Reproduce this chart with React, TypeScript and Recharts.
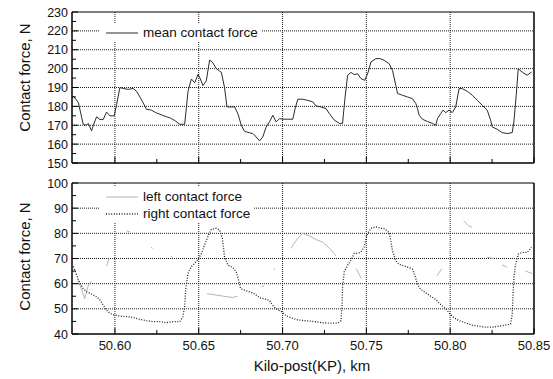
import { LineChart, Line, XAxis, YAxis, ReferenceLine, Legend } from 'recharts';

// kilo-post axis
const kmDomain = [50.5744, 50.85];
const majorKm = [50.6, 50.65, 50.7, 50.75, 50.8, 50.85];
const kmTicks = [50.6, 50.625, 50.65, 50.675, 50.7, 50.725, 50.75, 50.775, 50.8, 50.825, 50.85];

// mean contact force (top panel)
const meanTicks = [150, 155, 160, 165, 170, 175, 180, 185, 190, 195, 200, 205, 210, 215, 220, 225, 230];
const meanGrid = [160, 170, 180, 190, 200, 210, 220];
const meanKm = [
  50.5752, 50.5782, 50.5802, 50.5811, 50.5831, 50.5841, 50.5861, 50.5871, 50.5891, 50.5911, 50.593, 50.595,
  50.597, 50.5996, 50.601, 50.603, 50.6049, 50.6079, 50.6109, 50.6129, 50.6149, 50.6168, 50.6188, 50.6218,
  50.6248, 50.6278, 50.6307, 50.6327, 50.6357, 50.6387, 50.6416, 50.6426, 50.6436, 50.6456, 50.6476, 50.6496,
  50.651, 50.6525, 50.6545, 50.6565, 50.6581, 50.6605, 50.6635, 50.6654, 50.6668,
  50.6674, 50.6714, 50.6734, 50.6754, 50.6773, 50.6803, 50.6823, 50.6843, 50.6863, 50.6882, 50.6902, 50.6922,
  50.6942, 50.6962, 50.6982, 50.7001, 50.7031, 50.7061, 50.7075, 50.7091, 50.712, 50.715, 50.718, 50.72,
  50.723, 50.726, 50.7279, 50.7309, 50.7339, 50.7358, 50.7372, 50.7388, 50.7408, 50.7428, 50.7448, 50.7468,
  50.7491, 50.7511, 50.7527, 50.7557, 50.7583,
  50.7606, 50.7636, 50.7656, 50.7676, 50.7686, 50.7715, 50.7745, 50.7775, 50.7795, 50.7805, 50.7815, 50.7834,
  50.7864, 50.7894, 50.7914, 50.7924, 50.7944, 50.7957, 50.7973, 50.7993, 50.8013, 50.8033, 50.8053, 50.8072,
  50.8102, 50.8132, 50.8162, 50.8191, 50.8221, 50.8241, 50.8251, 50.828, 50.831, 50.834, 50.837, 50.838,
  50.8394, 50.8406, 50.8429, 50.8459, 50.8485,
];
const meanForce = [
  185.5, 182, 174, 170.5, 170, 171, 167, 170, 174.5, 173, 173, 177,
  175, 175, 181, 190, 189.5, 189, 189.5, 188, 185, 182, 178.5, 178,
  176.5, 175.5, 174.5, 174, 172.5, 170.5, 170.5, 179, 188, 194.5, 192.5, 197,
  194.5, 191, 193.5, 204.5, 203.5, 200, 198, 190, 180,
  179.7, 179.7, 176, 170, 166.8, 166, 165.6, 163.8, 161.7, 163.8, 169, 171.8,
  175.3, 171.8, 173.5, 173.2, 173.2, 173.2, 178.8, 183.8, 183.8, 183.2, 182.4, 180.2,
  179.7, 178.8, 176.2, 172.7, 171, 171, 184, 196.5, 198, 196.8, 197.3, 194.7,
  193.8, 198.2, 203.5, 205.3, 205.3,
  204.4, 202.6, 199, 191, 186.8, 185.9, 185, 184.1, 181.5, 178.8, 175.3, 173.2,
  172, 171, 170, 173.5, 176.2, 178, 176.7, 178, 176.7, 179.7, 189.4, 189.4,
  188, 185.9, 183.2, 180.6, 178, 172.7, 169.1, 167.9, 166.1, 165.6, 166.1, 171.8,
  185.9, 200, 198.2, 196.5, 198.2,
];

// left / right contact force (bottom panel)
const sideTicks = [40, 45, 50, 55, 60, 65, 70, 75, 80, 85, 90, 95, 100];
const sideGrid = [50, 60, 70, 80, 90];
const rightKm = [
  50.5752, 50.5772, 50.5792, 50.5811, 50.5831, 50.5851, 50.5871, 50.5891, 50.5911, 50.593, 50.595, 50.597,
  50.6, 50.603, 50.6069, 50.6109, 50.6149, 50.6188, 50.6228, 50.6268, 50.6307, 50.6347, 50.6387, 50.6406,
  50.6416, 50.6422, 50.6436, 50.6456, 50.6476, 50.6496, 50.6516, 50.6535, 50.6555, 50.6575, 50.6605, 50.6625,
  50.6641, 50.6654, 50.6674,
  50.6704, 50.6724, 50.6738, 50.675, 50.6773, 50.6803, 50.6833, 50.6863, 50.6892, 50.6922, 50.6942, 50.6962,
  50.6992, 50.7021, 50.7051, 50.7091, 50.713, 50.717, 50.721, 50.7249, 50.7289, 50.7328, 50.7348, 50.7355,
  50.7358, 50.7368, 50.7388, 50.7408, 50.7428, 50.7448, 50.7468, 50.7487, 50.7503, 50.7527, 50.7557, 50.7587,
  50.7606, 50.7636, 50.7646, 50.7656, 50.7676, 50.7696, 50.7725, 50.7755, 50.7775, 50.7791, 50.7805, 50.7825,
  50.7854, 50.7884, 50.7914, 50.7944, 50.7973, 50.7993, 50.8023, 50.8053, 50.8093, 50.8132, 50.8172, 50.8212,
  50.8251, 50.8291, 50.8331, 50.836, 50.837, 50.8374, 50.838, 50.839, 50.8406, 50.8429, 50.8459, 50.8485,
];
const rightForce = [
  66.8, 63.4, 60, 58, 56.8, 56.2, 55.5, 54.8, 53.5, 51.5, 49.5, 48.2,
  47.5, 47.1, 46.9, 46.6, 45.8, 45.3, 44.9, 44.9, 44.5, 44.9, 44.9, 46.9,
  50.9, 57.5, 64.1, 66.8, 68.1, 69.7, 72, 75.4, 78.7, 81.6, 82, 81.3,
  78, 70.7, 67.4,
  66.4, 64.7, 61.4, 58, 57.4, 56.7, 56, 54.4, 54, 53.3, 51.3, 50,
  48.9, 47.3, 46.4, 45.6, 45.3, 45.1, 44.7, 44.4, 44.3, 44.3, 45.3, 50.7,
  58.7, 64.7, 67.3, 69.3, 72, 72, 72.6, 74.6, 79.3, 82, 82.6, 82,
  81.9, 80.3, 77, 73, 69, 67.7, 67, 66.4, 65.7, 63, 59.7, 57.7,
  56.4, 55, 53.7, 51.7, 50, 48.4, 46.4, 45.3, 44.4, 43.5, 43.1, 42.7,
  42.7, 43.1, 43.5, 44, 47.7, 54.4, 62.3, 67.7, 71.7, 72.4, 72.4, 74.4,
];
// left signal drops out often, gaps are null
const leftKm = [
  50.5775, 50.58, 50.582, 50.584, 50.586, 50.59, 50.595, 50.5965, 50.6, 50.607, 50.609, 50.615,
  50.6215, 50.6225, 50.63, 50.6335, 50.6345, 50.645, 50.655, 50.66, 50.665, 50.67, 50.673, 50.68,
  50.6875, 50.689, 50.692, 50.6945, 50.6955, 50.7, 50.705, 50.709, 50.712, 50.716, 50.72, 50.724,
  50.728, 50.732, 50.74, 50.744, 50.747, 50.77, 50.792, 50.795, 50.8, 50.808, 50.811, 50.813,
  50.818, 50.822, 50.826, 50.829, 50.831, 50.834, 50.84, 50.845, 50.849,
];
const leftForce = [
  62, 58, 54, 59, 61, null, 67, 70, null, 81, 80.5, null,
  74.5, 74, null, 71, 70.5, null, 56, 55.5, 55, 54.5, 55, null,
  58.8, 59, null, 65.4, 66, null, 74, 78, 80, 79, 77.5, 76.5,
  74, 71, null, 66, 62, null, 63, 66, null, 85, 83, 82.5,
  null, 70.5, 70, null, 67.5, 66.5, null, 65, 64,
];

const meanData = meanKm.map((km, i) => ({ km, f: meanForce[i] }));
const rightData = rightKm.map((km, i) => ({ km, f: rightForce[i] }));
const leftData = leftKm.map((km, i) => ({ km, f: leftForce[i] }));

const FONT = '"Liberation Sans", Arial, sans-serif';
const gridStroke = '#1e1e1e';

function KmTick({ x, y, payload, showLabel }: any) {
  const major = majorKm.includes(payload.value);
  return (
    <g>
      <line x1={x} x2={x} y1={y} y2={y - (major ? 6 : 4)} stroke="#000" />
      {showLabel && major && (
        <text x={x} y={y + 16} textAnchor="middle" fontSize={13} fontFamily={FONT} fill="#111">
          {payload.value.toFixed(2)}
        </text>
      )}
    </g>
  );
}

function ForceTick({ x, y, payload }: any) {
  const major = payload.value % 10 === 0;
  return (
    <g>
      <line x1={x} x2={x + (major ? 6 : 4)} y1={y} y2={y} stroke="#000" />
      {major && (
        <text x={x - 4} y={y} dy={4.5} textAnchor="end" fontSize={12.5} fontFamily={FONT} fill="#111">
          {payload.value}
        </text>
      )}
    </g>
  );
}

function LegendBox({ payload }: any) {
  return (
    <div style={{ background: '#fff', padding: '1px 4px 1px 6px', fontFamily: FONT, fontSize: 13.5, color: '#111' }}>
      {(payload || []).map((entry: any) => (
        <div key={entry.value} style={{ display: 'flex', alignItems: 'center', height: 17 }}>
          <svg width={32} height={6}>
            <line
              x1={0}
              x2={32}
              y1={3}
              y2={3}
              stroke={entry.color}
              strokeWidth={entry.payload?.strokeWidth ?? 1}
              strokeDasharray={entry.payload?.strokeDasharray}
            />
          </svg>
          <span style={{ marginLeft: 5, lineHeight: '17px' }}>{entry.value}</span>
        </div>
      ))}
    </div>
  );
}

function Panel({
  top,
  height,
  marginTop,
  xHeight,
  yDomain,
  yTicks,
  grid,
  labelDy,
  bottom,
  legendTop,
  children,
}: any) {
  return (
    <div style={{ position: 'absolute', left: 0, top }}>
      <LineChart width={553} height={height} margin={{ top: marginTop, right: 19, bottom: 0, left: 0 }}>
        {grid.map((v: number) => (
          <ReferenceLine key={'h' + v} y={v} stroke={gridStroke} strokeDasharray="1 1" />
        ))}
        {majorKm.slice(0, 5).map((v) => (
          <ReferenceLine key={'v' + v} x={v} stroke={gridStroke} strokeDasharray="1 1" />
        ))}
        <ReferenceLine y={yDomain[1]} stroke="#000" strokeWidth={1.2} />
        <ReferenceLine x={kmDomain[1]} stroke="#000" strokeWidth={1.5} />
        <XAxis
          dataKey="km"
          type="number"
          domain={kmDomain}
          allowDataOverflow
          ticks={kmTicks}
          interval={0}
          height={xHeight}
          tickSize={0}
          tickMargin={0}
          tickLine={false}
          axisLine={{ stroke: '#000', strokeWidth: 1.5 }}
          tick={<KmTick showLabel={bottom} />}
          label={
            bottom
              ? { value: 'Kilo-post(KP), km', position: 'insideBottom', offset: 8, dx: 9, fontSize: 15, fontFamily: FONT, fill: '#111' }
              : undefined
          }
        />
        <YAxis
          type="number"
          domain={yDomain}
          ticks={yTicks}
          interval={0}
          width={72}
          tickSize={0}
          tickMargin={0}
          tickLine={false}
          axisLine={{ stroke: '#000', strokeWidth: 1.5 }}
          tick={<ForceTick />}
          label={{
            value: 'Contact force, N',
            angle: -90,
            position: 'center',
            dx: -11,
            dy: labelDy,
            fontSize: 15,
            fontFamily: FONT,
            fill: '#111',
          }}
        />
        <Legend
          layout="vertical"
          verticalAlign="middle"
          align="center"
          content={<LegendBox />}
          wrapperStyle={{ left: 100, top: legendTop, width: 'auto' }}
        />
        {children}
      </LineChart>
    </div>
  );
}

export default function App() {
  return (
    <div style={{ position: 'absolute', left: 0, top: 0, width: 553, height: 379, background: '#fff' }}>
      <Panel
        top={0}
        height={175}
        marginTop={12}
        xHeight={12}
        yDomain={[150, 230]}
        yTicks={meanTicks}
        grid={meanGrid}
        labelDy={-10}
        bottom={false}
        legendTop={23}
      >
        <Line
          data={meanData}
          dataKey="f"
          name="mean contact force"
          type="linear"
          stroke="#2b2b2b"
          strokeWidth={1}
          dot={false}
          isAnimationActive={false}
        />
      </Panel>
      <Panel
        top={175}
        height={204}
        marginTop={8}
        xHeight={45}
        yDomain={[40, 100]}
        yTicks={sideTicks}
        grid={sideGrid}
        labelDy={-2}
        bottom
        legendTop={12}
      >
        <Line
          data={leftData}
          dataKey="f"
          name="left contact force"
          type="linear"
          stroke="#b5b5b5"
          strokeWidth={1}
          dot={false}
          isAnimationActive={false}
        />
        <Line
          data={rightData}
          dataKey="f"
          name="right contact force"
          type="linear"
          stroke="#222"
          strokeWidth={1.3}
          strokeDasharray="1 1.6"
          dot={false}
          isAnimationActive={false}
        />
      </Panel>
    </div>
  );
}
